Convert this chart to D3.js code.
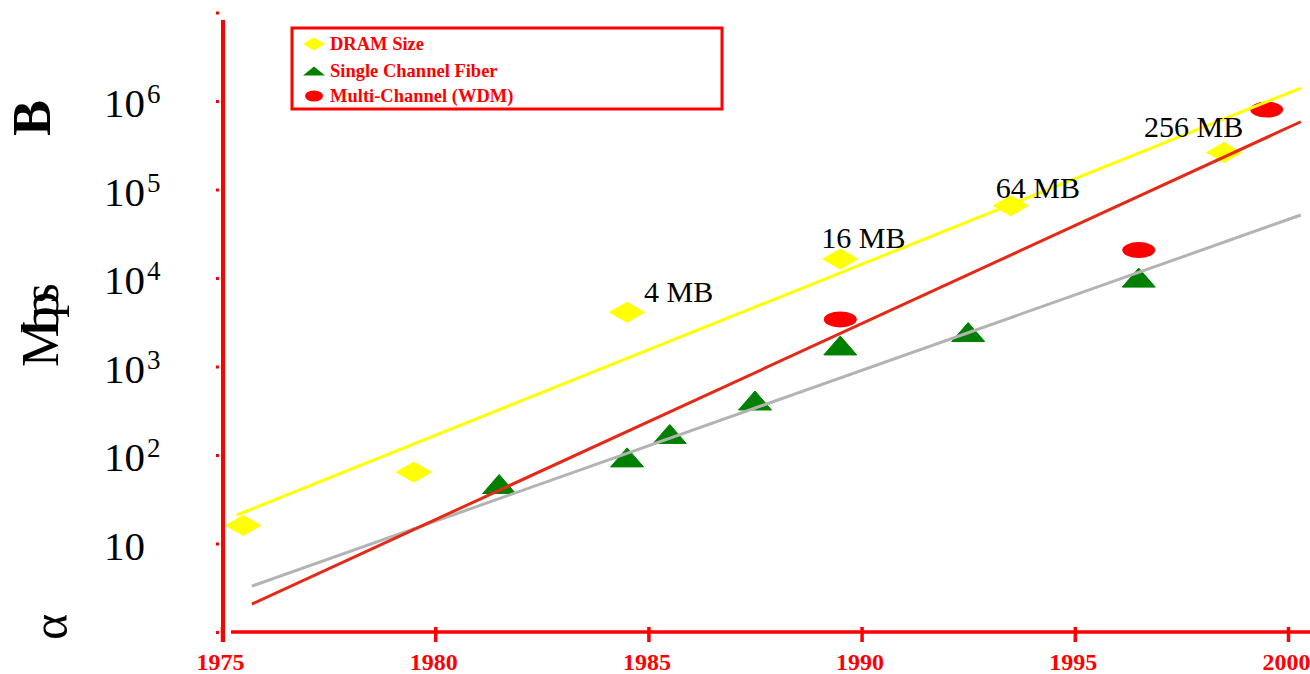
<!DOCTYPE html>
<html>
<head>
<meta charset="utf-8">
<script src="https://cdn.jsdelivr.net/npm/d3@7/dist/d3.min.js"></script>
<style>
  html, body { margin: 0; padding: 0; background: #fff; }
  svg { display: block; }
</style>
</head>
<body>
<svg id="chart" width="1310" height="674"></svg>
<script>
// ---------- data ----------
const xTicks = [1975, 1980, 1985, 1990, 1995, 2000];
const yTickValues = [1, 10, 100, 1000, 10000, 100000, 1000000, 10000000];
const yLabelExps = [1, 2, 3, 4, 5, 6];

const dramYears  = [1975.5, 1979.5, 1984.5, 1989.5, 1993.5, 1998.5];
const dramValues = [16, 64, 4096, 16384, 65536, 262144];
const dramLabels = [null, null, "4 MB", "16 MB", "64 MB", "256 MB"];

const fiberYears  = [1981.5, 1984.5, 1985.5, 1987.5, 1989.5, 1992.5, 1996.5];
const fiberValues = [47, 94, 173, 413, 1730, 2450, 10100];

const wdmYears  = [1989.5, 1996.5, 1999.5];
const wdmValues = [3400, 20700, 800000];

const dramTrend  = [[1975.35, 21], [2000.3, 1400000]];
const wdmTrend   = [[1975.7, 2.07], [2000.3, 583000]];
const fiberTrend = [[1975.7, 3.3], [2000.3, 51500]];

const legendNames = ["DRAM Size", "Single Channel Fiber", "Multi-Channel (WDM)"];

// ---------- setup ----------
const svg = d3.select("#chart");
const RED = "#ff0000";
const SERIF = "Liberation Serif, Times New Roman, serif";
const x = d3.scaleLinear().domain([1975, 2000]).range([222, 1288]);
const y = d3.scaleLog().domain([1, 1e7]).range([632, 12.5]);

// label placement offsets (layout only), per DRAM label index
const labelOffset = {2: [17, -10], 3: [-19, -11], 4: [-15, -8], 5: [-80, -15]};

// markers
const diamond = (w, h) => `M0,${-h/2}L${w/2},0L0,${h/2}L${-w/2},0Z`;
const tri = (w, h) => `M0,${-h/2}L${w/2},${h/2}L${-w/2},${h/2}Z`;

svg.append("g").selectAll("path")
  .data(dramYears.map((d, i) => [d, dramValues[i]]))
  .join("path")
  .attr("d", diamond(35, 20))
  .attr("transform", d => `translate(${x(d[0])},${y(d[1])})`)
  .attr("fill", "#ffff00")
  .attr("stroke", "#ffff00").attr("stroke-width", 1).attr("stroke-linejoin", "round");

svg.append("g").selectAll("path")
  .data(fiberYears.map((d, i) => [d, fiberValues[i]]))
  .join("path")
  .attr("d", tri(33, 19))
  .attr("transform", d => `translate(${x(d[0])},${y(d[1])})`)
  .attr("fill", "#008000")
  .attr("stroke", "#008000").attr("stroke-width", 1).attr("stroke-linejoin", "round");

svg.append("g").selectAll("ellipse")
  .data(wdmYears.map((d, i) => [d, wdmValues[i]]))
  .join("ellipse")
  .attr("cx", d => x(d[0])).attr("cy", d => y(d[1]))
  .attr("rx", 16.5).attr("ry", 8)
  .attr("fill", RED);

// trend lines
const line = d3.line().x(d => x(d[0])).y(d => y(d[1]));
svg.append("path").datum(fiberTrend).attr("d", line)
  .attr("fill", "none").attr("stroke", "#b3b3b3").attr("stroke-width", 3);
svg.append("path").datum(wdmTrend).attr("d", line)
  .attr("fill", "none").attr("stroke", "#e62817").attr("stroke-width", 3);
svg.append("path").datum(dramTrend).attr("d", line)
  .attr("fill", "none").attr("stroke", "#ffff00").attr("stroke-width", 3);

// DRAM labels
svg.append("g").selectAll("text")
  .data(dramYears.map((d, i) => [d, dramValues[i], dramLabels[i], i]).filter(d => d[2]))
  .join("text")
  .attr("x", d => x(d[0]) + labelOffset[d[3]][0])
  .attr("y", d => y(d[1]) + labelOffset[d[3]][1])
  .attr("font-family", SERIF)
  .attr("font-size", 30)
  .attr("fill", "#000")
  .text(d => d[2]);

// ---------- axes ----------
svg.append("line")
  .attr("x1", 223).attr("x2", 223)
  .attr("y1", 20).attr("y2", 642)
  .attr("stroke", RED).attr("stroke-width", 4);

const yAxis = d3.axisLeft(y).tickValues(yTickValues).tickSize(3).tickFormat("");
const gy = svg.append("g").attr("transform", "translate(219,0)").call(yAxis);
gy.select(".domain").remove();
gy.selectAll(".tick line").attr("stroke", RED).attr("stroke-width", 3);

const yl = svg.append("g").attr("font-family", SERIF).attr("fill", "#000");
yLabelExps.forEach(k => {
  const t = yl.append("text")
    .attr("x", 104)
    .attr("y", y(Math.pow(10, k)) + 16)
    .attr("font-size", 41)
    .text("10");
  if (k > 1) {
    t.append("tspan").attr("dy", -14).attr("dx", 2).attr("font-size", 27).text(k);
  }
});

svg.append("line")
  .attr("x1", 231).attr("x2", 1310)
  .attr("y1", 632).attr("y2", 632)
  .attr("stroke", RED).attr("stroke-width", 3.5);

const xAxis = d3.axisBottom(x).tickValues(xTicks).tickSize(15).tickPadding(11).tickFormat(d3.format("d"));
const gx = svg.append("g").attr("transform", "translate(0,627)").call(xAxis);
gx.select(".domain").remove();
gx.selectAll(".tick line").attr("stroke", RED).attr("stroke-width", 3.5);
gx.selectAll(".tick text")
  .attr("fill", RED)
  .attr("font-family", SERIF)
  .attr("font-weight", "bold")
  .attr("font-size", 24)
  .attr("dx", -2);

// y axis title pieces
const yt = svg.append("g").attr("font-family", SERIF).attr("fill", "#000");
yt.append("text").attr("transform", "translate(50,118) rotate(-90)")
  .attr("text-anchor", "middle").attr("font-size", 54).attr("font-weight", "bold").text("B");
yt.append("text").attr("transform", "translate(58,367) rotate(-90)")
  .attr("font-size", 52).attr("textLength", 84).attr("lengthAdjust", "spacing").text("Mbps");
yt.append("text").attr("transform", "translate(67,627) rotate(-90)")
  .attr("text-anchor", "middle").attr("font-size", 50).text("α");

// ---------- legend ----------
const lg = svg.append("g");
lg.append("rect").attr("x", 292).attr("y", 28).attr("width", 430).attr("height", 81)
  .attr("fill", "#fff").attr("stroke", RED).attr("stroke-width", 3);
const rowY = [44, 71, 96];
lg.append("path").attr("d", diamond(22, 13)).attr("transform", `translate(314,${rowY[0]})`).attr("fill", "#ffff00");
lg.append("path").attr("d", tri(22, 9)).attr("transform", `translate(314,${rowY[1]})`).attr("fill", "#008000");
lg.append("ellipse").attr("cx", 314).attr("cy", rowY[2]).attr("rx", 9).attr("ry", 5.5).attr("fill", RED);
lg.selectAll("text.lt").data(legendNames).join("text")
  .attr("class", "lt")
  .attr("x", 330)
  .attr("y", (d, i) => rowY[i] + 6)
  .attr("fill", RED)
  .attr("font-family", SERIF)
  .attr("font-weight", "bold")
  .attr("font-size", 18.5)
  .text(d => d);
</script>
</body>
</html>
